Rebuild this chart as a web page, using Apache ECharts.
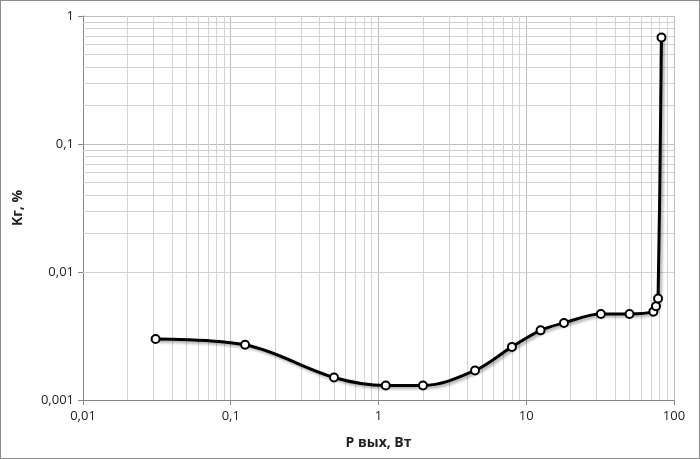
<!DOCTYPE html>
<html><head><meta charset="utf-8">
<script src="https://cdn.jsdelivr.net/npm/echarts@6/dist/echarts.min.js"></script>
<style>html,body{margin:0;padding:0;background:#fff}#c{width:700px;height:459px;box-sizing:border-box;border:1px solid #8c8c8c}</style>
</head><body><div id="c"></div>
<script>
const pOut = [0.031, 0.125, 0.5, 1.12, 2, 4.5, 8, 12.5, 18, 32, 50, 72.5, 75.5, 78, 82.3];
const kg   = [0.0030, 0.0027, 0.0015, 0.0013, 0.0013, 0.0017, 0.0026, 0.0035, 0.0040, 0.0047, 0.0047, 0.0049, 0.0054, 0.0062, 0.68];
const xTickLabels = {0.01:'0,01', 0.1:'0,1', 1:'1', 10:'10', 100:'100'};
const yTickLabels = {0.001:'0,001', 0.01:'0,01', 0.1:'0,1', 1:'1'};
const xDecades = [0.01, 0.1, 1, 10];
const yDecades = [0.001, 0.01, 0.1];
const minorMult = [2,3,4,5,6,7,8,9];

const minorLines = [];
xDecades.forEach(d => minorMult.forEach(m => minorLines.push({xAxis: +(d*m).toPrecision(3)})));
yDecades.forEach(d => minorMult.forEach(m => minorLines.push({yAxis: +(d*m).toPrecision(3)})));

const data = pOut.map((x,i)=>[x, kg[i]]);
const fontF = '"Open Sans","Liberation Sans",sans-serif';
const chart = echarts.init(document.getElementById('c'));
chart.setOption({
  animation:false,
  grid:{left:82,right:25,top:15,bottom:58},
  xAxis:{type:'log',logBase:10,min:0.01,max:100,
    name:'P вых, Вт',nameLocation:'middle',nameGap:36,
    nameTextStyle:{fontFamily:fontF,fontSize:14,fontWeight:'bold',color:'#222'},
    axisLine:{lineStyle:{color:'#868686'}},
    axisTick:{show:true,length:5,lineStyle:{color:'#868686'}},
    axisLabel:{fontFamily:fontF,fontSize:13,color:'#222',margin:10,formatter:v=>xTickLabels[+v.toPrecision(3)]||''},
    splitLine:{show:true,lineStyle:{color:'#bdbdbd'}}},
  yAxis:{type:'log',logBase:10,min:0.001,max:1,
    name:'Kг, %',nameLocation:'middle',nameGap:58,
    nameTextStyle:{fontFamily:fontF,fontSize:14,fontWeight:'bold',color:'#222'},
    axisLine:{show:true,lineStyle:{color:'#868686'}},
    axisTick:{show:true,length:5,lineStyle:{color:'#868686'}},
    axisLabel:{fontFamily:fontF,fontSize:13,color:'#222',margin:9,formatter:v=>yTickLabels[+v.toPrecision(3)]||''},
    splitLine:{show:true,lineStyle:{color:'#bdbdbd'}}},
  series:[
    {type:'line',data:data,symbol:'none',z:1,silent:true,lineStyle:{opacity:0},
     markLine:{silent:true,symbol:'none',label:{show:false},animation:false,
       lineStyle:{color:'#d3d3d3',type:'solid',width:1},data:minorLines}},
    {type:'line',data:data,smooth:0.35,z:5,
     symbol:'circle',symbolSize:8,
     itemStyle:{color:'#fff',borderColor:'#000',borderWidth:2},
     lineStyle:{color:'#000',width:3,shadowColor:'rgba(0,0,0,0.35)',shadowBlur:3,shadowOffsetX:2,shadowOffsetY:2}}
  ]
});
</script></body></html>
